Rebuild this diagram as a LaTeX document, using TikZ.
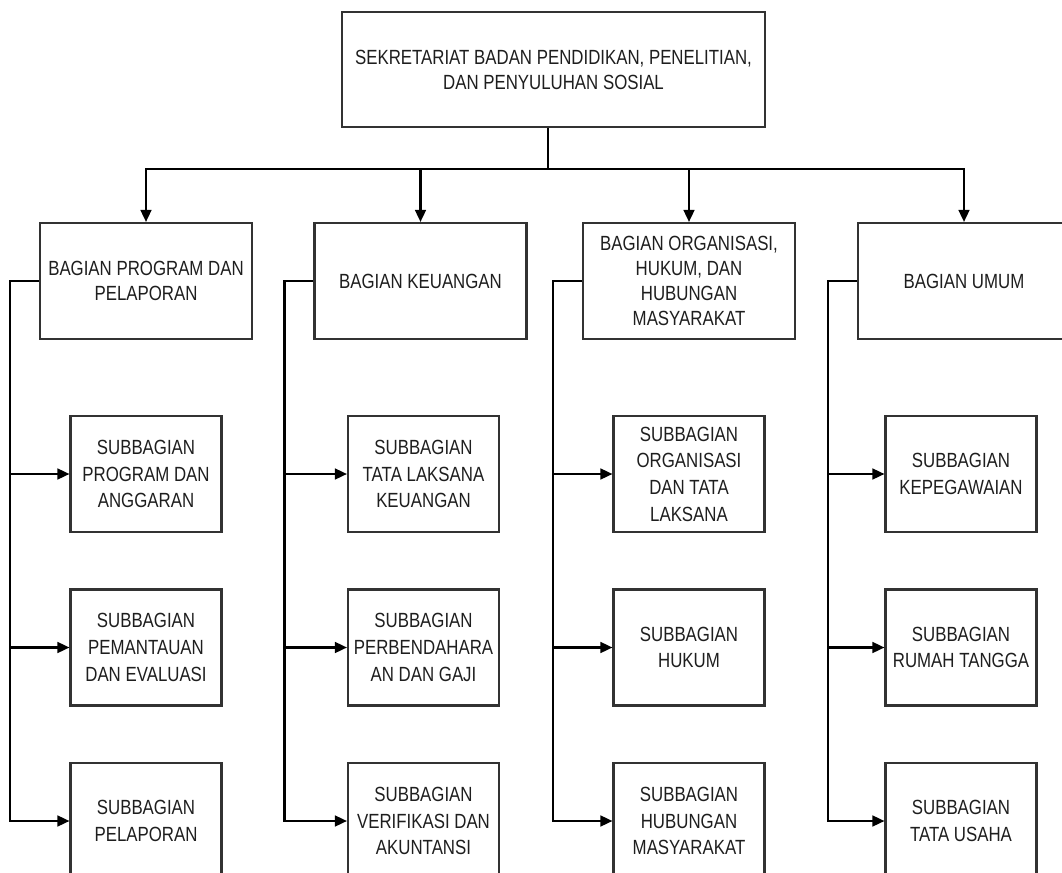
\documentclass[tikz,border=0pt]{standalone}
\usepackage{fontspec}
\setmainfont[FakeStretch=0.82]{Liberation Sans}
\usepackage{tikz}
\usetikzlibrary{positioning, arrows.meta, calc}
\definecolor{box_border}{RGB}{50,50,50}
\definecolor{box_text}{RGB}{30,30,30}
\tikzstyle{link} = [line width=1.5pt, black]
\tikzstyle{link_arrow} = [line width=1.5pt, black, -{Triangle[length=0.3cm, width=0.27cm]}]
\tikzstyle{sekretariat} = [rectangle, draw=box_border, line width=1.5pt, minimum width=10.575cm, minimum height=2.875cm, align=center, text=box_text, inner sep=1pt, font=\fontsize{14.6}{17.8}\selectfont]
\tikzstyle{bagian} = [rectangle, draw=box_border, line width=1.5pt, minimum width=5.3cm, minimum height=2.9cm, align=center, text=box_text, inner sep=1pt, font=\fontsize{14.6}{17.8}\selectfont]
\tikzstyle{subbagian} = [rectangle, draw=box_border, line width=1.5pt, minimum width=3.775cm, minimum height=2.9cm, align=center, text=box_text, inner sep=1pt, font=\fontsize{14.6}{19}\selectfont]

\begin{document}
\begin{tikzpicture}
        \clip (0,0) rectangle (26.55,-21.825);

        \node (top) [sekretariat] at (13.8375,-1.7375) {SEKRETARIAT BADAN PENDIDIKAN, PENELITIAN,\\DAN PENYULUHAN SOSIAL};

        \node (b1) [bagian] at (3.65,-7.025) {BAGIAN PROGRAM DAN\\PELAPORAN};
        \node (b2) [bagian, right of=b1, node distance=6.8625cm] {BAGIAN KEUANGAN};
        \node (b3) [bagian, right of=b2, node distance=6.7125cm] {BAGIAN ORGANISASI,\\HUKUM, DAN\\HUBUNGAN\\MASYARAKAT};
        \node (b4) [bagian, right of=b3, node distance=6.875cm] {BAGIAN UMUM};

        \node (s11) [subbagian, below of=b1, node distance=4.825cm] {SUBBAGIAN\\PROGRAM DAN\\ANGGARAN};
        \node (s12) [subbagian, below of=s11, node distance=4.3375cm] {SUBBAGIAN\\PEMANTAUAN\\DAN EVALUASI};
        \node (s13) [subbagian, below of=s12, node distance=4.3375cm] {SUBBAGIAN\\PELAPORAN};

        \node (s21) [subbagian, below of=b2, node distance=4.825cm, xshift=0.075cm] {SUBBAGIAN\\TATA LAKSANA\\KEUANGAN};
        \node (s22) [subbagian, below of=s21, node distance=4.3375cm] {SUBBAGIAN\\PERBENDAHARA\\AN DAN GAJI};
        \node (s23) [subbagian, below of=s22, node distance=4.3375cm] {SUBBAGIAN\\VERIFIKASI DAN\\AKUNTANSI};

        \node (s31) [subbagian, below of=b3, node distance=4.825cm] {SUBBAGIAN\\ORGANISASI\\DAN TATA\\LAKSANA};
        \node (s32) [subbagian, below of=s31, node distance=4.3375cm] {SUBBAGIAN\\HUKUM};
        \node (s33) [subbagian, below of=s32, node distance=4.3375cm] {SUBBAGIAN\\HUBUNGAN\\MASYARAKAT};

        \node (s41) [subbagian, below of=b4, node distance=4.825cm, xshift=-0.075cm] {SUBBAGIAN\\KEPEGAWAIAN};
        \node (s42) [subbagian, below of=s41, node distance=4.3375cm] {SUBBAGIAN\\RUMAH TANGGA};
        \node (s43) [subbagian, below of=s42, node distance=4.3375cm] {SUBBAGIAN\\TATA USAHA};

        % sekretariat to bagian
        \draw [link] ([xshift=-0.14cm]top.south) -- ++(0,-1.025) coordinate (bus);
        \draw [link_arrow] (bus) -| (b1.north);
        \draw [link_arrow] (bus) -| (b2.north);
        \draw [link_arrow] (bus) -| (b3.north);
        \draw [link_arrow] (bus) -| (b4.north);

        % bagian to subbagian
        \draw [link_arrow] (b1.west) -- ++(-0.725,0) coordinate (b1_left) |- (s13.west);
        \draw [link_arrow] (b1_left |- s11.west) -- (s11.west);
        \draw [link_arrow] (b1_left |- s12.west) -- (s12.west);

        \draw [link_arrow] (b2.west) -- ++(-0.725,0) coordinate (b2_left) |- (s23.west);
        \draw [link_arrow] (b2_left |- s21.west) -- (s21.west);
        \draw [link_arrow] (b2_left |- s22.west) -- (s22.west);

        \draw [link_arrow] (b3.west) -- ++(-0.725,0) coordinate (b3_left) |- (s33.west);
        \draw [link_arrow] (b3_left |- s31.west) -- (s31.west);
        \draw [link_arrow] (b3_left |- s32.west) -- (s32.west);

        \draw [link_arrow] (b4.west) -- ++(-0.725,0) coordinate (b4_left) |- (s43.west);
        \draw [link_arrow] (b4_left |- s41.west) -- (s41.west);
        \draw [link_arrow] (b4_left |- s42.west) -- (s42.west);

\end{tikzpicture}
\end{document}
